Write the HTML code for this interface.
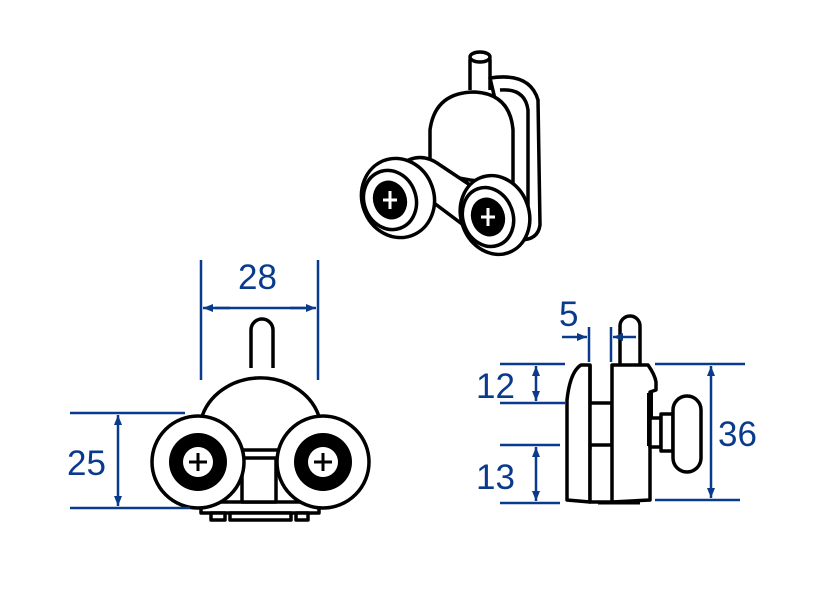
<!DOCTYPE html>
<html><head><style>
html,body{margin:0;padding:0;background:#fff;}
svg{display:block;}
text{font-family:"Liberation Sans",sans-serif;fill:#0a3a8c;font-size:35px;}
</style></head><body>
<svg width="817" height="592" viewBox="0 0 817 592" xmlns="http://www.w3.org/2000/svg">
<defs>
<marker id="a" markerWidth="10" markerHeight="8" refX="10" refY="4" orient="auto" markerUnits="userSpaceOnUse"><path d="M0,0 L10,4 L0,8 z" fill="#0a3a8c"/></marker>
</defs>
<g fill="#fff" stroke="#000" stroke-width="3.5" stroke-linejoin="round">
<!-- ISO view -->
<path d="M470,90 L470,60 A10,5 0 0 1 490,60 L490,90"/>
<ellipse cx="480" cy="57" rx="10" ry="5"/>
<path d="M490,78 Q530,72 538,100 L540,225 Q538,240 520,240 L505,235 L500,120 Z"/>
<path d="M500,90 Q525,88 528,110 L528,225"/>
<path d="M430,170 L430,130 Q435,92 475,92 Q510,94 513,130 L513,185 L470,180 Q440,175 430,170 Z"/>
<path d="M400,165 Q420,150 440,165 L500,205 L510,240 L470,230 L430,200 Z"/>
<ellipse cx="398" cy="198" rx="36" ry="40" transform="rotate(-20 398 198)"/>
<ellipse cx="390" cy="200" rx="26" ry="30" transform="rotate(-20 390 200)"/>
<ellipse cx="390" cy="200" rx="15" ry="18" fill="#000" transform="rotate(-20 390 200)"/>
<path d="M383,200 H397 M390,191 V209" stroke="#fff" stroke-width="3"/>
<ellipse cx="495" cy="215" rx="34" ry="40" transform="rotate(-20 495 215)"/>
<ellipse cx="488" cy="217" rx="25" ry="30" transform="rotate(-20 488 217)"/>
<ellipse cx="488" cy="217" rx="15" ry="18" fill="#000" transform="rotate(-20 488 217)"/>
<path d="M481,217 H495 M488,208 V226" stroke="#fff" stroke-width="3"/>

<!-- FRONT view -->
<path d="M251,368 L251,330 A11,11 0 0 1 273,330 L273,368"/>
<path d="M201,420 A61,54 0 0 1 320,420"/>
<rect x="201" y="502" width="118" height="11"/>
<rect x="211" y="513" width="14" height="7"/>
<rect x="230" y="513" width="61" height="7"/>
<rect x="296" y="513" width="12" height="7"/>
<rect x="242" y="452" width="34" height="50"/>
<rect x="238" y="450" width="42" height="8"/>
<circle cx="198" cy="462" r="46"/>
<circle cx="198" cy="462" r="29" fill="#000" stroke="none"/>
<circle cx="198" cy="462" r="15" fill="#fff" stroke="none"/>
<path d="M189,462 H207 M198,453 V471" stroke-width="3"/>
<circle cx="323" cy="462" r="46"/>
<circle cx="323" cy="462" r="29" fill="#000" stroke="none"/>
<circle cx="323" cy="462" r="15" fill="#fff" stroke="none"/>
<path d="M314,462 H332 M323,453 V471" stroke-width="3"/>

<!-- SIDE view -->
<path d="M620,366 L620,326 A10,10 0 0 1 640,326 L640,366"/>
<path d="M590,365 L581,365 Q570,372 567,400 L567,500 L590,502 Z"/>
<rect x="590" y="403" width="22" height="42"/>
<path d="M590,445 L590,502 L612,502 M590,403 L590,365"/>
<path d="M612,365 L648,365 Q655,375 656,382 L656,390 L650,392 L650,500 L612,502 Z"/>
<path d="M650,393 L650,446" stroke-width="6"/>
<rect x="650" y="418" width="11" height="29"/>
<rect x="661" y="414" width="12" height="37"/>
<rect x="673" y="396" width="28" height="76" rx="14"/>
<path d="M598,503 L640,503" stroke-width="3"/>
</g>

<g stroke="#0a3a8c" stroke-width="2.5" fill="none">
<path d="M201,260 V380 M318,260 V380"/>
<path d="M215,308 H305" />
<path d="M230,308 H203" marker-end="url(#a)"/>
<path d="M290,308 H316" marker-end="url(#a)"/>
<path d="M70,413 H185 M70,508 H190"/>
<path d="M118,440 V415" marker-end="url(#a)"/>
<path d="M118,480 V506" marker-end="url(#a)"/>
<path d="M118,440 V480"/>
<path d="M589,327 V362 M611,327 V362"/>
<path d="M562,337 H587" marker-end="url(#a)"/>
<path d="M636,337 H613" marker-end="url(#a)"/>
<path d="M500,364 H565 M500,403 H565"/>
<path d="M536,384 V366" marker-end="url(#a)"/>
<path d="M536,384 V401" marker-end="url(#a)"/>
<path d="M500,445 H560 M500,503 H560"/>
<path d="M536,474 V447" marker-end="url(#a)"/>
<path d="M536,474 V501" marker-end="url(#a)"/>
<path d="M655,364 H745 M655,500 H740"/>
<path d="M711,432 V366" marker-end="url(#a)"/>
<path d="M711,432 V498" marker-end="url(#a)"/>
</g>
<text x="238" y="289">28</text>
<text x="67" y="475">25</text>
<text x="559" y="326">5</text>
<text x="476" y="398">12</text>
<text x="476" y="489">13</text>
<text x="718" y="446">36</text>
</svg>
</body></html>
